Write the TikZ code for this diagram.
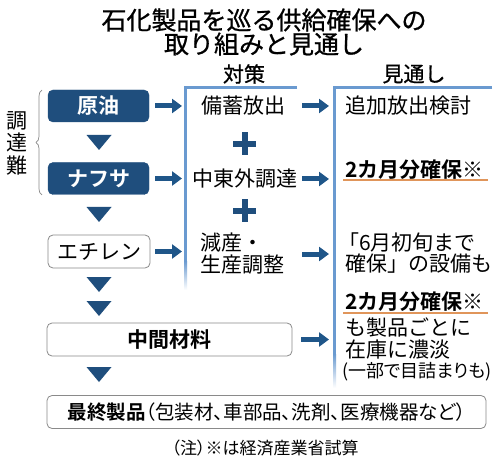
\documentclass[tikz,border=0pt]{standalone}
\usepackage{fontspec}
\setmainfont{Noto Sans CJK JP}[BoldFont={Noto Sans CJK JP Bold}]
\newfontfamily\jpp{Noto Sans CJK JP}[RawFeature=+palt,BoldFont={Noto Sans CJK JP Bold}]
\newfontfamily\titlefont{Noto Sans CJK JP}[FakeBold=0.8]
\usetikzlibrary{arrows.meta,decorations.pathreplacing}
\definecolor{navy}{HTML}{1F4E7D}
\definecolor{arrblue}{HTML}{1F5689}
\definecolor{barblue}{HTML}{6A9AD0}
\definecolor{uline}{HTML}{E0955A}
\definecolor{boxgray}{HTML}{8A8A8A}
\tikzset{
  body/.style={font=\fontsize{21}{22}\selectfont, inner sep=0pt},
  darkbox/.style={draw=navy, fill=navy, rounded corners=5pt, minimum width=101pt, minimum height=32pt, text=white, font=\fontsize{21}{22}\selectfont\bfseries, inner sep=0pt},
  lightbox/.style={draw=boxgray, line width=0.8pt, fill=white, rounded corners=5pt, minimum height=33pt, inner sep=0pt},
  arr/.style={arrblue, line width=5pt, -{Triangle[length=10pt,width=14pt]}},
  downtri/.style={fill=navy},
  plus/.style={navy, line width=6pt},
  bar/.style={barblue, line width=3pt},
}
\begin{document}
\begin{tikzpicture}[x=1pt,y=-1pt]
\useasboundingbox (0,0) rectangle (500,462);
\fill[white] (0,0) rectangle (500,462);

% title
\node[inner sep=0pt, font=\titlefont\fontsize{25}{26}\selectfont] (t1) at (264,20) {石化製品を巡る供給確保への};
\node[inner sep=0pt, font=\titlefont\fontsize{25}{26}\selectfont] (t2) at (264,44) {取り組みと見通し};

% headers
\node[inner sep=0pt, font=\titlefont\fontsize{21}{22}\selectfont] (h1) at (244,74) {対策};
\node[inner sep=0pt, font=\titlefont\fontsize{21}{22}\selectfont] (h2) at (414,74) {見通し};

% bars
\draw[bar] (297,88) -- (185.5,88) -- (185.5,262);
\shade[top color=barblue, bottom color=white] (184,261) rectangle (187,290);
\draw[bar] (492,88) -- (334.5,88) -- (334.5,355);
\shade[top color=barblue, bottom color=white] (333,354) rectangle (336,388);

% left boxes
\node[darkbox] (gen) at (98.5,106) {原油};
\node[darkbox] (naf) at (98.5,178.5) {ナフサ};
\node[lightbox, minimum width=102pt, font=\fontsize{21}{22}\selectfont] (eth) at (99,251.5) {エチレン};
\node[lightbox, minimum width=245pt, font=\fontsize{21}{22}\selectfont\bfseries] (chu) at (169.5,339.5) {中間材料};
\node[lightbox, minimum width=439pt, font=\jpp\fontsize{19.5}{22}\selectfont] (sai) at (266.5,412) {\textbf{最終製品}（包装材、車部品、洗剤、医療機器など）};

% down triangles
\foreach \y in {135,207,277,301,367}
  \fill[downtri] (86.5,\y) -- (111.5,\y) -- (99,\y+15) -- cycle;

% brace and label
\draw[boxgray, line width=0.7pt, decorate, decoration={brace, amplitude=6pt}] (42,195) -- (42,90);
\node[body, align=center, font=\fontsize{21}{22.5}\selectfont] (cho) at (17,143) {調\\達\\難};

% middle column texts
\node[body] (m1) at (243,106) {備蓄放出};
\node[body] (m2) at (245,179) {中東外調達};
\node[body, anchor=west, align=left] (m3) at (200,254) {減産・\\生産調整};

% plus signs
\draw[plus] (233,144) -- (256,144);
\draw[plus] (244.5,132.5) -- (244.5,155.5);
\draw[plus] (233,211) -- (256,211);
\draw[plus] (244.5,199.5) -- (244.5,222.5);

% right column texts
\node[body, anchor=west] (r1) at (345,106) {追加放出検討};
\node[body, anchor=west, font=\fontsize{21}{22}\selectfont\bfseries] (r2) at (345,170) {2カ月分確保※};
\node[body, anchor=west] (r3a) at (338,242) {「6月初旬まで};
\node[body, anchor=west] (r3b) at (345,264) {確保」の設備も};
\node[body, anchor=west, font=\fontsize{21}{22}\selectfont\bfseries] (r4) at (345,302) {2カ月分確保※};
\node[body, anchor=west] (r5) at (345,328) {も製品ごとに};
\node[body, anchor=west] (r6) at (345,350) {在庫に濃淡};
\node[body, anchor=west, font=\jpp\fontsize{18}{22}\selectfont] (r7) at (342,372) {(一部で目詰まりも)};

% orange underlines
\draw[uline, line width=2pt] (343,180.5) -- (488,180.5);
\draw[uline, line width=2pt] (343,312.5) -- (488,312.5);

% arrows
\coordinate (lb) at (182,0);
\coordinate (rs) at (302,0);
\coordinate (rb) at (329,0);
\draw[arr] ([xshift=6pt]gen.east) -- (gen.east -| lb);
\draw[arr] ([xshift=6pt]naf.east) -- (naf.east -| lb);
\draw[arr] ([xshift=5pt]eth.east) -- (eth.east -| lb);
\draw[arr] (m1 -| rs) -- (m1 -| rb);
\draw[arr] (m2 -| rs) -- (m2 -| rb);
\draw[arr] (m3 -| rs) -- (m3 -| rb);
\draw[arr] ([xshift=9pt]chu.east) -- (chu.east -| rb);

% footnote
\node[inner sep=0pt, font=\jpp\fontsize{17}{19}\selectfont] (note) at (265,448) {（注）※は経済産業省試算};
\end{tikzpicture}
\end{document}
